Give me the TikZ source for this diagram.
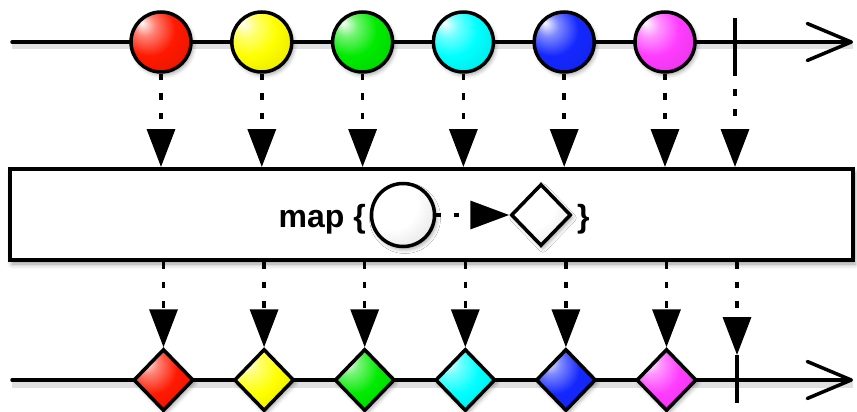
\documentclass[tikz,border=0pt]{standalone}
\usepackage{fontspec}
\newfontfamily\hfont{Liberation Sans}
\usetikzlibrary{arrows.meta,shapes.geometric,shadows.blur}

\definecolor{cR}{RGB}{255,25,0}
\definecolor{cY}{RGB}{255,255,0}
\definecolor{cG}{RGB}{0,235,0}
\definecolor{cC}{RGB}{0,255,255}
\definecolor{cB}{RGB}{20,40,255}
\definecolor{cM}{RGB}{255,60,255}

\newcommand\mkball[1]{%
  \pgfdeclareradialshading{ball#1}{\pgfqpoint{-16bp}{16bp}}{%
    color(0bp)=(c#1!3!white); color(9bp)=(c#1!55!white); color(22bp)=(c#1);
    color(42bp)=(c#1!88!black); color(62bp)=(c#1!60!black)}}
\mkball{R}\mkball{Y}\mkball{G}\mkball{C}\mkball{B}\mkball{M}
\pgfdeclareradialshading{ballW}{\pgfqpoint{-16bp}{16bp}}{%
  color(0bp)=(white); color(22bp)=(white); color(40bp)=(black!12);
  color(62bp)=(black!55)}

\begin{document}
\begin{tikzpicture}[x=1pt,y=-1pt,
  axis/.style={line width=3.5pt, line cap=round},
  axshadow/.style={line width=7pt, black, opacity=0.12, transform canvas={yshift=-4pt}},
  ball/.style={circle, draw, line width=3.5pt, minimum size=60pt, inner sep=0pt,
    shading=ball#1, blur shadow={shadow xshift=2pt, shadow yshift=-3pt, shadow blur radius=4pt, shadow opacity=35}},
  gem/.style={diamond, draw, line width=3.5pt, minimum width=60pt, minimum height=62pt, inner sep=0pt,
    shading=ball#1, blur shadow={shadow xshift=2pt, shadow yshift=-3pt, shadow blur radius=4pt, shadow opacity=35}},
  flow/.style={line width=3.5pt, dash pattern=on 6.5pt off 13pt, -{Triangle[length=38pt,width=28pt]}},
  tick/.style={line width=4pt},
  txt/.style={font=\hfont\bfseries\fontsize{32}{38}\selectfont, inner sep=0pt},
  mapbox/.style={draw, fill=white, line width=4pt, minimum width=843pt, minimum height=91pt, inner sep=0pt,
    blur shadow={shadow xshift=2pt, shadow yshift=-4pt, shadow blur radius=5pt, shadow opacity=40}},
]
\useasboundingbox (0,0) rectangle (857,412);

% top axis
\coordinate (ts) at (12,42);
\coordinate (te) at (853,42);
\draw[axshadow] (ts) -- (te);
\draw[axis, -{Straight Barb[length=44pt,width=37pt,round]}] (ts) -- (te);
\coordinate (k1t) at (735,18);
\coordinate (k1b) at (735,70);
\draw[tick] (k1t) -- (k1b);

\node[ball=R] (c1) at (161,42) {};
\node[ball=Y] (c2) at (261.8,42) {};
\node[ball=G] (c3) at (362.6,42) {};
\node[ball=C] (c4) at (463.4,42) {};
\node[ball=B] (c5) at (564.2,42) {};
\node[ball=M] (c6) at (665,42) {};

% operator box
\node[mapbox] (map) at (431.5,214.5) {};
\node[ball=W, minimum size=63pt] (fc) at (403,215) {};
\node[gem=W] (fd) at (541,215) {};
\node[txt, anchor=base east] (lbl) at (366,227) {map \{};
\node[txt, anchor=base west] (rb) at (577,227) {\}};
\draw[line width=3.5pt, dash pattern=on 5pt off 13pt, -{Triangle[length=39pt,width=28pt]}] (fc) -- (fd);

% connectors in
\foreach \i in {1,...,6} {\draw[flow] (c\i) -- (c\i |- map.north);}
\draw[flow] (k1b) -- (k1b |- map.north);

% bottom axis
\coordinate (bs) at (12,380);
\coordinate (be) at (853,380);
\draw[axshadow] (bs) -- (be);
\draw[axis, -{Straight Barb[length=44pt,width=37pt,round]}] (bs) -- (be);
\coordinate (k2t) at (737,355);
\coordinate (k2b) at (737,403);
\draw[tick] (k2t) -- (k2b);

\node[gem=R] (d1) at (163.5,380) {};
\node[gem=Y] (d2) at (264.1,380) {};
\node[gem=G] (d3) at (364.7,380) {};
\node[gem=C] (d4) at (465.3,380) {};
\node[gem=B] (d5) at (565.9,380) {};
\node[gem=M] (d6) at (666.5,380) {};

% connectors out
\foreach \i in {1,...,6} {\draw[flow] (map.south -| d\i) -- (d\i);}
\draw[flow] (map.south -| k2t) -- (k2t);
\end{tikzpicture}
\end{document}
